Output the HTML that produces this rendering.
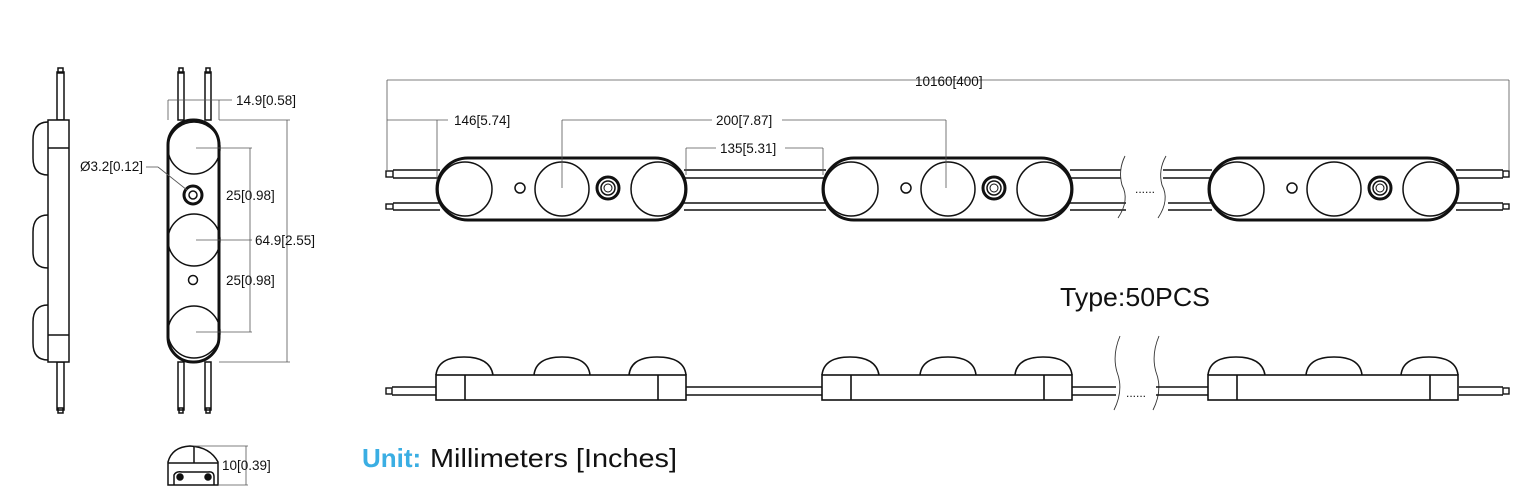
<!DOCTYPE html>
<html><head><meta charset="utf-8"><style>
html,body{margin:0;padding:0;background:#fff;width:1523px;height:496px;overflow:hidden}
svg{display:block}
text{font-family:"Liberation Sans",Arial,sans-serif;fill:#111}
</style></head><body>
<svg width="1523" height="496" viewBox="0 0 1523 496" xmlns="http://www.w3.org/2000/svg">
<defs>
<g id="top" fill="none" stroke="#111">
  <rect x="0" y="0" width="249" height="62" rx="31" stroke-width="3" fill="#fff"/>
  <circle cx="28" cy="31" r="27" stroke-width="1.5"/>
  <circle cx="125" cy="31" r="27" stroke-width="1.5"/>
  <circle cx="221" cy="31" r="27" stroke-width="1.5"/>
  <circle cx="83" cy="30" r="5" stroke-width="1.5"/>
  <circle cx="171" cy="30" r="11" stroke-width="3"/>
  <circle cx="171" cy="30" r="7" stroke-width="1.5"/>
  <circle cx="171" cy="30" r="4" stroke-width="1"/>
</g>
<g id="side" fill="none" stroke="#111" stroke-width="1.6">
  <path d="M0 18 Q2 0 28 0 Q54 0 57 18"/>
  <path d="M98 18 Q100 0 126 0 Q152 0 154 18"/>
  <path d="M193 18 Q195 0 221 0 Q248 0 250 18"/>
  <rect x="0" y="18" width="250" height="25" fill="#fff"/>
  <line x1="29" y1="18" x2="29" y2="43"/>
  <line x1="222" y1="18" x2="222" y2="43"/>
</g>
</defs>

<!-- LEFT SIDE VIEW -->
<g fill="none" stroke="#111" stroke-width="1.5">
  <rect x="57" y="72" width="7" height="48"/>
  <rect x="58" y="68" width="5" height="5"/>
  <rect x="57" y="362" width="7" height="48"/>
  <rect x="58" y="408" width="5" height="5"/>
  <rect x="48" y="120" width="21" height="242" fill="#fff"/>
  <line x1="48" y1="148" x2="69" y2="148"/>
  <line x1="48" y1="335" x2="69" y2="335"/>
  <path d="M48 122 Q33 122 33 140 L33 158 Q33 175 48 175"/>
  <path d="M48 215 Q33 215 33 232 L33 252 Q33 268 48 268"/>
  <path d="M48 305 Q33 305 33 322 L33 343 Q33 360 48 360"/>
</g>

<!-- FRONT VIEW -->
<g fill="none" stroke="#111" stroke-width="1.5">
  <rect x="178" y="72" width="6" height="48"/><rect x="179" y="68" width="4" height="5"/>
  <rect x="205" y="72" width="6" height="48"/><rect x="206" y="68" width="4" height="5"/>
  <rect x="178" y="362" width="6" height="48"/><rect x="179" y="408" width="4" height="5"/>
  <rect x="205" y="362" width="6" height="48"/><rect x="206" y="408" width="4" height="5"/>
  <rect x="168" y="120" width="51" height="242" rx="25" stroke-width="3" fill="#fff"/>
  <circle cx="194" cy="148" r="26"/>
  <circle cx="194" cy="240" r="26"/>
  <circle cx="194" cy="332" r="26"/>
  <circle cx="193" cy="195" r="9" stroke-width="3"/>
  <circle cx="193" cy="195" r="4"/>
  <circle cx="193" cy="280" r="4.5"/>
</g>
<g stroke="#555" stroke-width="0.8" fill="none">
  <line x1="168" y1="100" x2="168" y2="120"/><line x1="219" y1="100" x2="219" y2="120"/>
  <line x1="168" y1="100" x2="232" y2="100"/>
  <line x1="219" y1="120" x2="290" y2="120"/><line x1="219" y1="362" x2="290" y2="362"/>
  <line x1="287" y1="120" x2="287" y2="362"/>
  <line x1="196" y1="148" x2="252" y2="148"/><line x1="196" y1="240" x2="252" y2="240"/><line x1="196" y1="332" x2="252" y2="332"/>
  <line x1="250" y1="148" x2="250" y2="332"/>
  <line x1="146" y1="167" x2="158" y2="167"/><line x1="158" y1="167" x2="187" y2="190"/>
</g>
<text x="236" y="105" font-size="13.5">14.9[0.58]</text>
<text x="80" y="171" font-size="13.5">Ø3.2[0.12]</text>
<text x="226" y="200" font-size="13.5">25[0.98]</text>
<text x="255" y="245" font-size="13.5">64.9[2.55]</text>
<text x="226" y="285" font-size="13.5">25[0.98]</text>

<!-- BOTTOM SMALL VIEW -->
<g fill="none" stroke="#111" stroke-width="1.5">
  <path d="M168 485 L168 462 Q172 447 190 446 Q210 447 218 462 L218 485 Z"/>
  <line x1="168" y1="463" x2="218" y2="463"/>
  <line x1="194" y1="446" x2="194" y2="463"/>
  <path d="M174 485 L174 475 Q176 471 182 472 L208 472 Q214 471 214 477 L214 485"/>
  <circle cx="180" cy="477" r="3" fill="#111"/>
  <circle cx="208" cy="477" r="3" fill="#111"/>
</g>
<g stroke="#555" stroke-width="0.8"><line x1="194" y1="446" x2="248" y2="446"/><line x1="218" y1="485" x2="248" y2="485"/><line x1="246" y1="446" x2="246" y2="485"/></g>
<text x="222" y="470" font-size="13.5">10[0.39]</text>

<!-- TOP VIEW STRIP -->
<g stroke="#111" stroke-width="1.4" fill="none">
  <line x1="393" y1="170" x2="440" y2="170"/><line x1="393" y1="178" x2="440" y2="178"/>
  <line x1="393" y1="203" x2="440" y2="203"/><line x1="393" y1="210" x2="440" y2="210"/>
  <rect x="386" y="171" width="7" height="6"/><rect x="386" y="204" width="7" height="5"/>
  <line x1="684" y1="170" x2="826" y2="170"/><line x1="684" y1="178" x2="826" y2="178"/>
  <line x1="684" y1="203" x2="826" y2="203"/><line x1="684" y1="210" x2="826" y2="210"/>
  <line x1="1070" y1="170" x2="1121" y2="170"/><line x1="1070" y1="178" x2="1121" y2="178"/>
  <line x1="1070" y1="203" x2="1126" y2="203"/><line x1="1070" y1="210" x2="1126" y2="210"/>
  <line x1="1163" y1="170" x2="1212" y2="170"/><line x1="1163" y1="178" x2="1212" y2="178"/>
  <line x1="1168" y1="203" x2="1212" y2="203"/><line x1="1168" y1="210" x2="1212" y2="210"/>
  <line x1="1456" y1="170" x2="1503" y2="170"/><line x1="1456" y1="178" x2="1503" y2="178"/>
  <line x1="1456" y1="203" x2="1503" y2="203"/><line x1="1456" y1="210" x2="1503" y2="210"/>
  <rect x="1503" y="171" width="6" height="6"/><rect x="1503" y="204" width="6" height="5"/>
</g>
<g stroke="#333" stroke-width="0.9" fill="none">
  <path d="M1125 156 Q1118 170 1122 185 Q1130 200 1118 218"/>
  <path d="M1166 156 Q1158 170 1162 185 Q1170 200 1158 218"/>
  <path d="M1120 336 Q1112 355 1117 372 Q1124 390 1114 410"/>
  <path d="M1159 336 Q1151 355 1156 372 Q1163 390 1153 410"/>
</g>
<text x="1135" y="193" font-size="12">......</text>
<text x="1126" y="397" font-size="12">......</text>
<use href="#top" x="437" y="158"/>
<use href="#top" x="823" y="158"/>
<use href="#top" x="1209" y="158"/>

<!-- dims top -->
<g stroke="#555" stroke-width="0.8" fill="none">
  <line x1="387" y1="80" x2="1509" y2="80"/>
  <line x1="387" y1="80" x2="387" y2="170"/><line x1="1509" y1="80" x2="1509" y2="170"/>
  <line x1="387" y1="120" x2="448" y2="120"/><line x1="437" y1="120" x2="437" y2="180"/>
  <line x1="562" y1="120" x2="712" y2="120"/><line x1="782" y1="120" x2="946" y2="120"/>
  <line x1="562" y1="120" x2="562" y2="188"/><line x1="946" y1="120" x2="946" y2="188"/>
  <line x1="686" y1="148" x2="686" y2="175"/><line x1="823" y1="148" x2="823" y2="175"/>
  <line x1="686" y1="148" x2="716" y2="148"/><line x1="785" y1="148" x2="823" y2="148"/>
</g>
<text x="915" y="86" font-size="13.5">10160[400]</text>
<text x="454" y="125" font-size="13.5">146[5.74]</text>
<text x="716" y="125" font-size="13.5">200[7.87]</text>
<text x="720" y="153" font-size="13.5">135[5.31]</text>

<text x="1060" y="306" font-size="26" textLength="150" lengthAdjust="spacingAndGlyphs">Type:50PCS</text>

<!-- SIDE STRIP -->
<g stroke="#111" stroke-width="1.4" fill="none">
  <line x1="392" y1="387" x2="436" y2="387"/><line x1="392" y1="395" x2="436" y2="395"/>
  <rect x="386" y="388" width="6" height="6"/>
  <line x1="686" y1="387" x2="823" y2="387"/><line x1="686" y1="395" x2="823" y2="395"/>
  <line x1="1072" y1="387" x2="1116" y2="387"/><line x1="1072" y1="395" x2="1116" y2="395"/>
  <line x1="1156" y1="387" x2="1209" y2="387"/><line x1="1156" y1="395" x2="1209" y2="395"/>
  <line x1="1459" y1="387" x2="1503" y2="387"/><line x1="1459" y1="395" x2="1503" y2="395"/>
  <rect x="1503" y="388" width="6" height="6"/>
</g>
<use href="#side" x="436" y="357"/>
<use href="#side" x="822" y="357"/>
<use href="#side" x="1208" y="357"/>

<text x="362" y="467" font-size="26"><tspan font-weight="bold" style="fill:#3aaee3">Unit:</tspan></text>
<text x="430" y="467" font-size="26" textLength="247" lengthAdjust="spacingAndGlyphs">Millimeters [Inches]</text>
</svg>
</body></html>
